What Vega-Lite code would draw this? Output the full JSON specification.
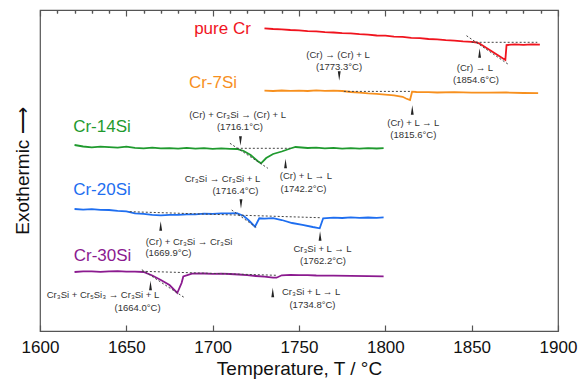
{
  "$schema": "https://vega.github.io/schema/vega-lite/v6.json",
  "width": 518,
  "height": 321,
  "autosize": "none",
  "padding": {"left": 40, "top": 10, "right": 21, "bottom": 52},
  "config": {"font": "Liberation Sans", "view": {"stroke": "#555", "strokeWidth": 1.2}, "axis": {"grid": false}},
  "datasets": {
    "curves": [
      {"series": "pure Cr", "T": 1730, "v": 302.7}, {"series": "pure Cr", "T": 1735, "v": 302.0}, {"series": "pure Cr", "T": 1740, "v": 301.7}, {"series": "pure Cr", "T": 1745, "v": 301.0}, {"series": "pure Cr", "T": 1750, "v": 300.6}, {"series": "pure Cr", "T": 1755, "v": 299.8}, {"series": "pure Cr", "T": 1760, "v": 299.6}, {"series": "pure Cr", "T": 1765, "v": 298.8}, {"series": "pure Cr", "T": 1770, "v": 298.5}, {"series": "pure Cr", "T": 1775, "v": 297.8}, {"series": "pure Cr", "T": 1780, "v": 297.7}, {"series": "pure Cr", "T": 1785, "v": 296.8}, {"series": "pure Cr", "T": 1790, "v": 296.4}, {"series": "pure Cr", "T": 1795, "v": 295.5}, {"series": "pure Cr", "T": 1800, "v": 295.3}, {"series": "pure Cr", "T": 1805, "v": 294.4}, {"series": "pure Cr", "T": 1810, "v": 294.1}, {"series": "pure Cr", "T": 1815, "v": 293.1}, {"series": "pure Cr", "T": 1820, "v": 292.9}, {"series": "pure Cr", "T": 1825, "v": 292.0}, {"series": "pure Cr", "T": 1830, "v": 291.6}, {"series": "pure Cr", "T": 1835, "v": 290.9}, {"series": "pure Cr", "T": 1840, "v": 290.4}, {"series": "pure Cr", "T": 1845, "v": 289.6}, {"series": "pure Cr", "T": 1850, "v": 289.1}, {"series": "pure Cr", "T": 1853, "v": 288.5}, {"series": "pure Cr", "T": 1855, "v": 287.0}, {"series": "pure Cr", "T": 1860, "v": 281.5}, {"series": "pure Cr", "T": 1865, "v": 276.0}, {"series": "pure Cr", "T": 1869.5, "v": 271.0}, {"series": "pure Cr", "T": 1870.2, "v": 286.0}, {"series": "pure Cr", "T": 1875, "v": 286.6}, {"series": "pure Cr", "T": 1880, "v": 286.2}, {"series": "pure Cr", "T": 1885, "v": 286.7}, {"series": "pure Cr", "T": 1889.5, "v": 286.4},

      {"series": "Cr-7Si", "T": 1730, "v": 240.3}, {"series": "Cr-7Si", "T": 1735, "v": 240.0}, {"series": "Cr-7Si", "T": 1740, "v": 240.5}, {"series": "Cr-7Si", "T": 1745, "v": 240.1}, {"series": "Cr-7Si", "T": 1750, "v": 240.3}, {"series": "Cr-7Si", "T": 1755, "v": 240.0}, {"series": "Cr-7Si", "T": 1760, "v": 240.6}, {"series": "Cr-7Si", "T": 1765, "v": 240.2}, {"series": "Cr-7Si", "T": 1770, "v": 240.3}, {"series": "Cr-7Si", "T": 1775, "v": 240.0}, {"series": "Cr-7Si", "T": 1780, "v": 239.0}, {"series": "Cr-7Si", "T": 1785, "v": 238.3}, {"series": "Cr-7Si", "T": 1790, "v": 237.6}, {"series": "Cr-7Si", "T": 1795, "v": 237.1}, {"series": "Cr-7Si", "T": 1800, "v": 236.4}, {"series": "Cr-7Si", "T": 1805, "v": 235.6}, {"series": "Cr-7Si", "T": 1810, "v": 234.2}, {"series": "Cr-7Si", "T": 1812, "v": 232.5}, {"series": "Cr-7Si", "T": 1814.3, "v": 231.0}, {"series": "Cr-7Si", "T": 1815.5, "v": 239.3}, {"series": "Cr-7Si", "T": 1818, "v": 239.0}, {"series": "Cr-7Si", "T": 1825, "v": 238.8}, {"series": "Cr-7Si", "T": 1830, "v": 238.5}, {"series": "Cr-7Si", "T": 1840, "v": 238.8}, {"series": "Cr-7Si", "T": 1850, "v": 238.3}, {"series": "Cr-7Si", "T": 1860, "v": 238.4}, {"series": "Cr-7Si", "T": 1870, "v": 238.5}, {"series": "Cr-7Si", "T": 1880, "v": 238.0}, {"series": "Cr-7Si", "T": 1888.5, "v": 237.8},

      {"series": "Cr-14Si", "T": 1620, "v": 186.0}, {"series": "Cr-14Si", "T": 1625, "v": 184.5}, {"series": "Cr-14Si", "T": 1630, "v": 183.7}, {"series": "Cr-14Si", "T": 1635, "v": 184.4}, {"series": "Cr-14Si", "T": 1640, "v": 183.9}, {"series": "Cr-14Si", "T": 1645, "v": 183.4}, {"series": "Cr-14Si", "T": 1650, "v": 184.3}, {"series": "Cr-14Si", "T": 1655, "v": 183.1}, {"series": "Cr-14Si", "T": 1660, "v": 182.7}, {"series": "Cr-14Si", "T": 1665, "v": 183.4}, {"series": "Cr-14Si", "T": 1670, "v": 182.6}, {"series": "Cr-14Si", "T": 1675, "v": 182.9}, {"series": "Cr-14Si", "T": 1680, "v": 182.4}, {"series": "Cr-14Si", "T": 1685, "v": 183.1}, {"series": "Cr-14Si", "T": 1690, "v": 182.3}, {"series": "Cr-14Si", "T": 1695, "v": 182.8}, {"series": "Cr-14Si", "T": 1700, "v": 182.1}, {"series": "Cr-14Si", "T": 1705, "v": 182.6}, {"series": "Cr-14Si", "T": 1710, "v": 182.2}, {"series": "Cr-14Si", "T": 1714, "v": 182.0}, {"series": "Cr-14Si", "T": 1718, "v": 180.0}, {"series": "Cr-14Si", "T": 1722, "v": 176.0}, {"series": "Cr-14Si", "T": 1726, "v": 170.0}, {"series": "Cr-14Si", "T": 1728, "v": 167.7}, {"series": "Cr-14Si", "T": 1731, "v": 173.0}, {"series": "Cr-14Si", "T": 1735, "v": 177.0}, {"series": "Cr-14Si", "T": 1740, "v": 179.5}, {"series": "Cr-14Si", "T": 1745, "v": 182.5}, {"series": "Cr-14Si", "T": 1748, "v": 184.0}, {"series": "Cr-14Si", "T": 1755, "v": 183.0}, {"series": "Cr-14Si", "T": 1760, "v": 183.4}, {"series": "Cr-14Si", "T": 1765, "v": 182.6}, {"series": "Cr-14Si", "T": 1770, "v": 183.1}, {"series": "Cr-14Si", "T": 1775, "v": 182.4}, {"series": "Cr-14Si", "T": 1780, "v": 182.9}, {"series": "Cr-14Si", "T": 1785, "v": 182.3}, {"series": "Cr-14Si", "T": 1790, "v": 182.8}, {"series": "Cr-14Si", "T": 1795, "v": 182.5}, {"series": "Cr-14Si", "T": 1799, "v": 182.8},

      {"series": "Cr-20Si", "T": 1620, "v": 122.0}, {"series": "Cr-20Si", "T": 1625, "v": 121.4}, {"series": "Cr-20Si", "T": 1630, "v": 121.8}, {"series": "Cr-20Si", "T": 1635, "v": 121.1}, {"series": "Cr-20Si", "T": 1640, "v": 121.0}, {"series": "Cr-20Si", "T": 1645, "v": 120.2}, {"series": "Cr-20Si", "T": 1650, "v": 119.6}, {"series": "Cr-20Si", "T": 1655, "v": 117.6}, {"series": "Cr-20Si", "T": 1660, "v": 117.2}, {"series": "Cr-20Si", "T": 1665, "v": 116.1}, {"series": "Cr-20Si", "T": 1670, "v": 115.6}, {"series": "Cr-20Si", "T": 1675, "v": 116.2}, {"series": "Cr-20Si", "T": 1680, "v": 116.1}, {"series": "Cr-20Si", "T": 1685, "v": 116.7}, {"series": "Cr-20Si", "T": 1690, "v": 116.6}, {"series": "Cr-20Si", "T": 1695, "v": 117.3}, {"series": "Cr-20Si", "T": 1700, "v": 117.2}, {"series": "Cr-20Si", "T": 1705, "v": 117.6}, {"series": "Cr-20Si", "T": 1710, "v": 117.6}, {"series": "Cr-20Si", "T": 1714, "v": 117.8}, {"series": "Cr-20Si", "T": 1718, "v": 115.0}, {"series": "Cr-20Si", "T": 1721, "v": 110.5}, {"series": "Cr-20Si", "T": 1724.5, "v": 104.3}, {"series": "Cr-20Si", "T": 1727, "v": 112.7}, {"series": "Cr-20Si", "T": 1730, "v": 112.3}, {"series": "Cr-20Si", "T": 1735, "v": 112.8}, {"series": "Cr-20Si", "T": 1740, "v": 111.0}, {"series": "Cr-20Si", "T": 1746, "v": 108.0}, {"series": "Cr-20Si", "T": 1752, "v": 106.2}, {"series": "Cr-20Si", "T": 1758, "v": 104.0}, {"series": "Cr-20Si", "T": 1762, "v": 102.7}, {"series": "Cr-20Si", "T": 1764, "v": 112.7}, {"series": "Cr-20Si", "T": 1770, "v": 113.4}, {"series": "Cr-20Si", "T": 1775, "v": 113.0}, {"series": "Cr-20Si", "T": 1780, "v": 113.6}, {"series": "Cr-20Si", "T": 1785, "v": 113.1}, {"series": "Cr-20Si", "T": 1790, "v": 113.5}, {"series": "Cr-20Si", "T": 1795, "v": 113.1}, {"series": "Cr-20Si", "T": 1799, "v": 113.6},

      {"series": "Cr-30Si", "T": 1620, "v": 59.0}, {"series": "Cr-30Si", "T": 1625, "v": 59.6}, {"series": "Cr-30Si", "T": 1630, "v": 59.7}, {"series": "Cr-30Si", "T": 1635, "v": 59.2}, {"series": "Cr-30Si", "T": 1640, "v": 59.6}, {"series": "Cr-30Si", "T": 1645, "v": 59.8}, {"series": "Cr-30Si", "T": 1650, "v": 59.4}, {"series": "Cr-30Si", "T": 1655, "v": 59.3}, {"series": "Cr-30Si", "T": 1660, "v": 59.0}, {"series": "Cr-30Si", "T": 1665, "v": 55.5}, {"series": "Cr-30Si", "T": 1670, "v": 51.0}, {"series": "Cr-30Si", "T": 1675, "v": 46.0}, {"series": "Cr-30Si", "T": 1679.5, "v": 38.0}, {"series": "Cr-30Si", "T": 1682, "v": 48.0}, {"series": "Cr-30Si", "T": 1683, "v": 54.5}, {"series": "Cr-30Si", "T": 1688, "v": 57.3}, {"series": "Cr-30Si", "T": 1695, "v": 57.5}, {"series": "Cr-30Si", "T": 1700, "v": 57.2}, {"series": "Cr-30Si", "T": 1705, "v": 57.4}, {"series": "Cr-30Si", "T": 1710, "v": 57.0}, {"series": "Cr-30Si", "T": 1715, "v": 56.5}, {"series": "Cr-30Si", "T": 1720, "v": 55.8}, {"series": "Cr-30Si", "T": 1725, "v": 55.0}, {"series": "Cr-30Si", "T": 1730, "v": 54.3}, {"series": "Cr-30Si", "T": 1735, "v": 53.3}, {"series": "Cr-30Si", "T": 1737, "v": 53.3}, {"series": "Cr-30Si", "T": 1740, "v": 55.7}, {"series": "Cr-30Si", "T": 1745, "v": 56.2}, {"series": "Cr-30Si", "T": 1750, "v": 55.8}, {"series": "Cr-30Si", "T": 1755, "v": 55.9}, {"series": "Cr-30Si", "T": 1760, "v": 55.5}, {"series": "Cr-30Si", "T": 1770, "v": 55.4}, {"series": "Cr-30Si", "T": 1780, "v": 55.1}, {"series": "Cr-30Si", "T": 1790, "v": 54.8}, {"series": "Cr-30Si", "T": 1799, "v": 54.7}
    ],
    "dashes": [
      {"g": "r1", "T": 1850, "v": 288.7}, {"g": "r1", "T": 1888, "v": 288.7},
      {"g": "r2", "T": 1847, "v": 295.3}, {"g": "r2", "T": 1871.2, "v": 266.7},
      {"g": "o1", "T": 1776, "v": 239.6}, {"g": "o1", "T": 1814.3, "v": 239.6},
      {"g": "g1", "T": 1714, "v": 182.7}, {"g": "g1", "T": 1745, "v": 182.7},
      {"g": "g2", "T": 1710, "v": 187.7}, {"g": "g2", "T": 1732, "v": 162.7},
      {"g": "b1", "T": 1652, "v": 119.3}, {"g": "b1", "T": 1762, "v": 113.3},
      {"g": "b2", "T": 1711, "v": 121.0}, {"g": "b2", "T": 1726, "v": 102.7},
      {"g": "p1", "T": 1659, "v": 59.7}, {"g": "p1", "T": 1737, "v": 55.7},
      {"g": "p2", "T": 1659, "v": 61.3}, {"g": "p2", "T": 1684, "v": 33.0}
    ],
    "arrows": [
      {"T": 1773.3, "v": 255, "dir": "down"},
      {"T": 1854.6, "v": 278, "dir": "up"},
      {"T": 1815.6, "v": 221, "dir": "up"},
      {"T": 1716.1, "v": 190, "dir": "down"},
      {"T": 1742.2, "v": 167.5, "dir": "up"},
      {"T": 1716.4, "v": 127, "dir": "down"},
      {"T": 1669.9, "v": 105, "dir": "up"},
      {"T": 1762.2, "v": 95, "dir": "up"},
      {"T": 1664.0, "v": 45.5, "dir": "up"},
      {"T": 1734.8, "v": 38.5, "dir": "up"}
    ],
    "series_labels": [
      {"series": "pure Cr", "T": 1705.7, "v": 302},
      {"series": "Cr-7Si", "T": 1700.2, "v": 248.5},
      {"series": "Cr-14Si", "T": 1635.9, "v": 204.5},
      {"series": "Cr-20Si", "T": 1635.9, "v": 141},
      {"series": "Cr-30Si", "T": 1636.2, "v": 75}
    ],
    "notes": [
      {"label": "(Cr) → (Cr) + L", "T": 1772.6, "v": 276},
      {"label": "(1773.3°C)", "T": 1773.2, "v": 264},
      {"label": "(Cr) → L", "T": 1851.9, "v": 263},
      {"label": "(1854.6°C)", "T": 1852.5, "v": 251},
      {"label": "(Cr) + L → L", "T": 1816.2, "v": 208},
      {"label": "(1815.6°C)", "T": 1816.2, "v": 196},
      {"label": "(Cr) + Cr₃Si → (Cr) + L", "T": 1714.4, "v": 216},
      {"label": "(1716.1°C)", "T": 1715.8, "v": 204},
      {"label": "(Cr) + L → L", "T": 1754, "v": 155},
      {"label": "(1742.2°C)", "T": 1752.6, "v": 142},
      {"label": "Cr₃Si → Cr₃Si + L", "T": 1705.7, "v": 152},
      {"label": "(1716.4°C)", "T": 1713.2, "v": 140},
      {"label": "(Cr) + Cr₃Si → Cr₃Si", "T": 1686.3, "v": 89},
      {"label": "(1669.9°C)", "T": 1674.4, "v": 77.7},
      {"label": "Cr₃Si + L → L", "T": 1763.6, "v": 81.7},
      {"label": "(1762.2°C)", "T": 1763.9, "v": 70.3},
      {"label": "Cr₃Si + Cr₅Si₃ → Cr₃Si + L", "T": 1636.5, "v": 36},
      {"label": "(1664.0°C)", "T": 1656.5, "v": 22.7},
      {"label": "Cr₃Si + L → L", "T": 1757, "v": 39},
      {"label": "(1734.8°C)", "T": 1757.8, "v": 26}
    ]
  },
  "encoding": {
    "y": {
      "field": "v", "type": "quantitative",
      "scale": {"domain": [0, 321], "nice": false, "zero": false},
      "axis": {"title": "Exothermic ⟶", "titleFontSize": 19, "titleFontWeight": "normal", "titleColor": "#111", "labels": false, "ticks": false, "domain": false, "grid": false, "titlePadding": 8}
    }
  },
  "resolve": {"axis": {"x": "independent"}},
  "layer": [
    {
      "data": {"name": "curves"},
      "mark": {"type": "line", "strokeWidth": 1.8},
      "encoding": {
        "x": {"field": "T", "type": "quantitative", "scale": {"domain": [1600, 1900], "nice": false, "zero": false},
          "axis": {"values": [1600, 1650, 1700, 1750, 1800, 1850, 1900], "format": "d", "tickSize": -6, "tickColor": "#555", "tickWidth": 1.2, "labelFontSize": 17, "labelColor": "#111", "labelPadding": 14, "labelFlush": false, "labelOverlap": false, "domain": false, "grid": false, "title": "Temperature, T / °C", "titleFontSize": 19, "titleFontWeight": "normal", "titleColor": "#111", "titlePadding": 4}},
        "color": {"field": "series", "type": "nominal", "scale": {"domain": ["pure Cr", "Cr-7Si", "Cr-14Si", "Cr-20Si", "Cr-30Si"], "range": ["#f0141e", "#f7901e", "#1f9a2e", "#1e6ef0", "#8b1a8f"]}, "legend": null}
      }
    },
    {
      "data": {"name": "dashes"},
      "mark": {"type": "line", "strokeWidth": 1, "strokeDash": [2, 2], "color": "#444"},
      "encoding": {
        "x": {"field": "T", "type": "quantitative", "scale": {"domain": [1600, 1900], "nice": false, "zero": false},
          "axis": {"values": [1610, 1620, 1630, 1640, 1660, 1670, 1680, 1690, 1710, 1720, 1730, 1740, 1760, 1770, 1780, 1790, 1810, 1820, 1830, 1840, 1860, 1870, 1880, 1890], "tickSize": -3, "tickColor": "#555", "tickWidth": 1.2, "labels": false, "domain": false, "grid": false, "title": null}},
        "detail": {"field": "g", "type": "nominal"}
      }
    },
    {
      "data": {"name": "arrows"},
      "mark": {"type": "point", "filled": true, "size": 90, "color": "#222", "opacity": 1, "strokeWidth": 0},
      "encoding": {
        "x": {"field": "T", "type": "quantitative", "scale": {"domain": [1600, 1900], "nice": false, "zero": false},
          "axis": {"orient": "top", "values": [1600, 1650, 1700, 1750, 1800, 1850, 1900], "tickSize": -6, "tickColor": "#555", "tickWidth": 1.2, "labels": false, "domain": false, "grid": false, "title": null}},
        "shape": {"field": "dir", "type": "nominal", "scale": {"domain": ["up", "down"], "range": ["M0,-1L0.3,1L-0.3,1Z", "M0,1L0.3,-1L-0.3,-1Z"]}, "legend": null}
      }
    },
    {
      "data": {"name": "series_labels"},
      "mark": {"type": "text", "fontSize": 17, "align": "center", "baseline": "middle"},
      "encoding": {
        "x": {"field": "T", "type": "quantitative", "scale": {"domain": [1600, 1900], "nice": false, "zero": false},
          "axis": {"orient": "top", "values": [1610, 1620, 1630, 1640, 1660, 1670, 1680, 1690, 1710, 1720, 1730, 1740, 1760, 1770, 1780, 1790, 1810, 1820, 1830, 1840, 1860, 1870, 1880, 1890], "tickSize": -3, "tickColor": "#555", "tickWidth": 1.2, "labels": false, "domain": false, "grid": false, "title": null}},
        "text": {"field": "series", "type": "nominal"},
        "color": {"field": "series", "type": "nominal", "scale": {"domain": ["pure Cr", "Cr-7Si", "Cr-14Si", "Cr-20Si", "Cr-30Si"], "range": ["#f0141e", "#f7901e", "#1f9a2e", "#1e6ef0", "#8b1a8f"]}, "legend": null}
      }
    },
    {
      "data": {"name": "notes"},
      "mark": {"type": "text", "fontSize": 9.5, "align": "center", "baseline": "middle", "color": "#333"},
      "encoding": {
        "x": {"field": "T", "type": "quantitative", "scale": {"domain": [1600, 1900], "nice": false, "zero": false}, "axis": null},
        "text": {"field": "label", "type": "nominal"}
      }
    }
  ]
}
